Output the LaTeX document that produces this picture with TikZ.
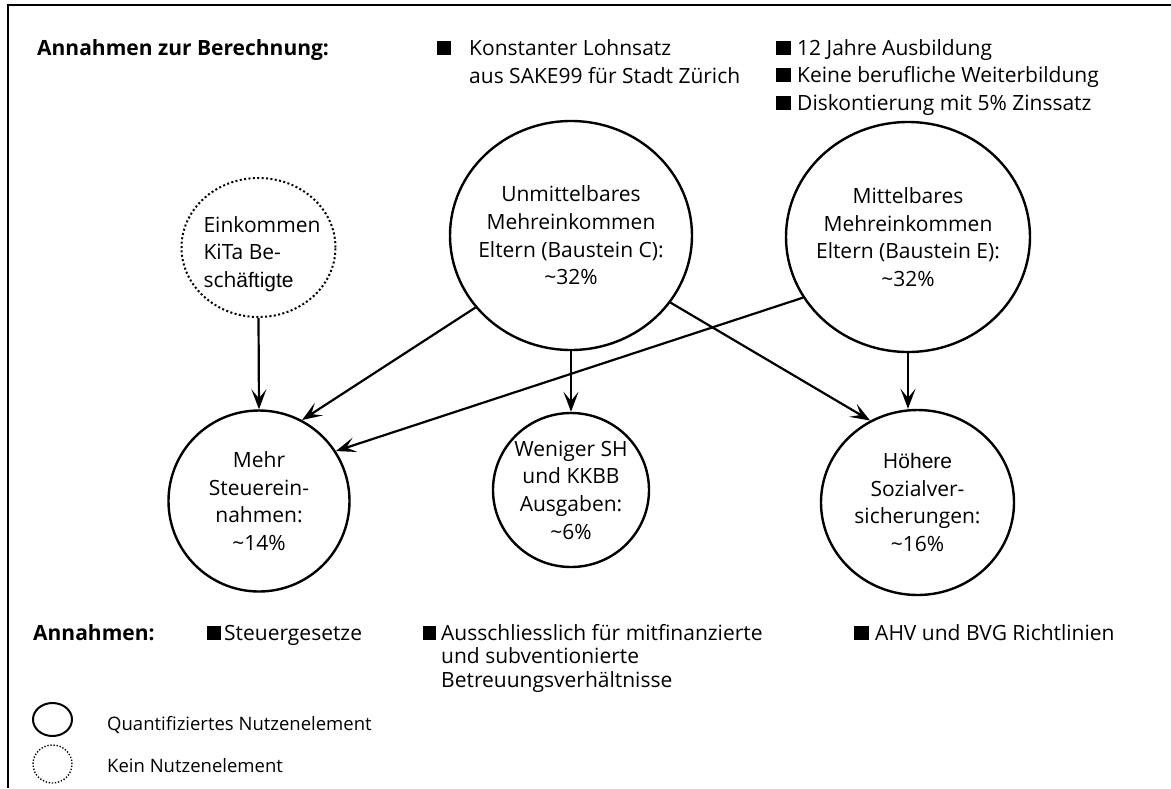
\documentclass[tikz,border=0pt]{standalone}
\usepackage{fontspec}
\setmainfont{Open Sans}
\newfontfamily\arialf{Liberation Sans}
\usetikzlibrary{shapes.geometric,arrows.meta}
\begin{document}
\begin{tikzpicture}[x=1pt,y=-1pt,
  bub/.style={ellipse,draw,line width=2.4pt,inner sep=-25pt,align=center,font=\fontsize{21}{27.7}\selectfont},
  dotbub/.style={bub,line width=2pt,dash pattern=on 2pt off 2.4pt},
  arr/.style={line width=2.2pt,-{Stealth[length=20pt,width=15pt,inset=9pt]}},
  txt/.style={anchor=base west,inner sep=0pt,font=\fontsize{21}{28}\selectfont},
  leg/.style={anchor=base west,inner sep=0pt,font=\fontsize{18.5}{24}\selectfont},
  legbub/.style={ellipse,draw,inner sep=0pt,minimum width=39pt}]
\useasboundingbox (0,0) rectangle (1171,788);
\draw[line width=2.6pt] (8,788) -- (8,5) -- (1171,5);

% top assumptions
\node[txt] (t1) at (37,55) {\bfseries Annahmen zur Berechnung:};
\node[txt] (t2) at (437,55) {\rule{14pt}{14pt}\hspace{18pt}Konstanter Lohnsatz};
\node[txt] (t3) at (469,83) {aus SAKE99 für Stadt Zürich};
\node[txt] (t4) at (776,55) {\rule{15pt}{14pt}\hspace{6pt}12 Jahre Ausbildung};
\node[txt] (t5) at (776,82) {\rule{15pt}{14pt}\hspace{6pt}Keine berufliche Weiterbildung};
\node[txt] (t6) at (776,110) {\rule{15pt}{14pt}\hspace{6pt}Diskontierung mit 5\% Zinssatz};

% bubbles
\node[dotbub,minimum width=154pt,minimum height=139pt] (ein) at (258.5,247.5) {};
\node[align=left,inner sep=0pt,font=\fontsize{21}{27.7}\selectfont] (eintxt) at (262,254) {Einkommen\\KiTa Be-\\sch{\arialf äftigte}};
\node[bub,minimum width=242pt,minimum height=229pt] (c) at (571,235.5) {Unmittelbares\\Mehreinkommen\\Eltern (Baustein C):\\\textasciitilde32\%};
\node[bub,minimum width=244pt,minimum height=230pt] (e) at (908,237) {Mittelbares\\Mehreinkommen\\Eltern (Baustein E):\\\textasciitilde32\%};
\node[bub,minimum width=181pt,minimum height=181pt] (mehr) at (259,501) {Mehr\\Steuerein-\\nahmen:\\\textasciitilde14\%};
\node[bub,minimum width=156pt,minimum height=154pt] (wen) at (571,490) {Weniger SH\\und KKBB\\Ausgaben:\\\textasciitilde6\%};
\node[bub,minimum width=193pt,minimum height=185pt] (hoe) at (917.5,502.5) {H{\arialf öhere}\\Sozialver-\\sicherungen:\\\textasciitilde16\%};

% connectors
\draw[arr] (ein.270) -- (mehr.90);
\draw[arr] (c.217) -- (mehr.62);
\draw[arr] (e.210) -- (mehr.33);
\draw[arr] (c.270) -- (wen.90);
\draw[arr] (c.326) -- (hoe.120);
\draw[arr] (e.270) -- (e.270 |- hoe.north);

% bottom assumptions
\node[txt] (a1) at (33,640) {\bfseries Annahmen:};
\node[txt] (a2) at (207,640) {\rule{14pt}{14pt}\hspace{3pt}Steuergesetze};
\node[txt] (a3) at (423,640) {\rule{13pt}{14pt}\hspace{5pt}Ausschliesslich für mitfinanzierte};
\node[txt] (a4) at (441,663.5) {und subventionierte};
\node[txt] (a5) at (441,687) {Betreuungsverhältnisse};
\node[txt] (a6) at (854,640) {\rule{15pt}{14pt}\hspace{6pt}AHV und BVG Richtlinien};

% legend
\node[legbub,line width=2pt,minimum height=33pt] (lq) at (52.5,719.5) {};
\node[legbub,line width=1.4pt,dash pattern=on 1.3pt off 1.8pt,minimum height=38pt] (lk) at (52.5,764) {};
\node[leg] (lqt) at (107,730) {Quantifiziertes Nutzenelement};
\node[leg] (lkt) at (107,772) {Kein Nutzenelement};
\end{tikzpicture}
\end{document}
